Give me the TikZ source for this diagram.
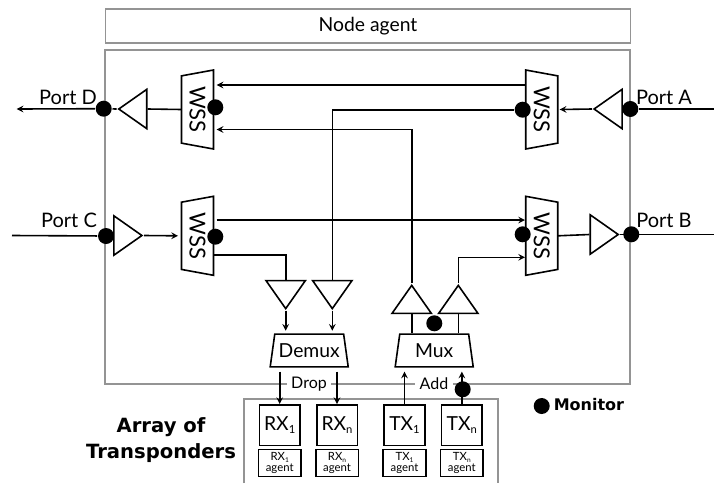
\documentclass[tikz,border=0pt]{standalone}
\usepackage{fontspec}
\setmainfont{Lato}
\newfontfamily\heavyfont{DejaVu Sans}[BoldFont={DejaVu Sans Bold}]
\usetikzlibrary{positioning, arrows, shapes.geometric}
\newcommand{\subidx}[1]{\raisebox{-.35ex}{\scalebox{.58}{#1}}}

\begin{document}
\begin{tikzpicture}[x=.75pt,y=-.75pt,>=stealth,node distance=20pt,on grid,line width=1.2pt]
\tikzstyle{panel}=[draw=black!42,line width=1.3pt]
\tikzstyle{wss}=[trapezium,draw,rotate=-90,trapezium left angle=70,trapezium right angle=70,trapezium stretches body=true,minimum width=59.25pt,minimum height=24pt,inner sep=0pt,font=\fontsize{16.5}{16.5}\selectfont]
\tikzstyle{wssflip}=[wss,shape border rotate=180]
\tikzstyle{amp}=[isosceles triangle,draw,isosceles triangle stretches=true,minimum width=29.5pt,minimum height=21pt,inner sep=0pt,anchor=apex]
\tikzstyle{mux}=[trapezium,draw,trapezium left angle=72,trapezium right angle=72,trapezium stretches body=true,minimum width=58.5pt,minimum height=24.5pt,inner sep=0pt,font=\fontsize{14.5}{15}\selectfont]
\tikzstyle{mon}=[circle,fill,minimum size=12pt,inner sep=0pt]
\tikzstyle{trx}=[rectangle,draw,minimum size=30.5pt,inner sep=0pt,font=\fontsize{14.5}{15}\selectfont]
\tikzstyle{agent}=[rectangle,draw,minimum width=32pt,minimum height=20.5pt,inner sep=0pt,align=center,font=\fontsize{8.5}{8.7}\selectfont]
\tikzstyle{lbl}=[inner sep=0pt,font=\fontsize{15}{15}\selectfont]
\tikzstyle{gap}=[fill=white,inner sep=3.5pt,font=\fontsize{12}{12}\selectfont]
\useasboundingbox (0,0) rectangle (714,483);

  %--- frames ---
  \node[panel,rectangle,minimum width=393.8pt,minimum height=26pt,inner sep=0pt,font=\fontsize{14.5}{15}\selectfont] (agentbar) at (368,26) {Node agent};
  \node[panel,rectangle,minimum width=393.8pt,minimum height=250.5pt] (frame) at (367.5,217) {};
  \draw[panel] (244,483) |- (498,399) -- (498,483);

  %--- wss ---
  \node[wssflip] (wssD) at (197.5,109.5) {WSS};
  \node[wss] (wssA) at (541.7,109.5) {WSS};
  \node[wssflip] (wssC) at (197.5,235.8) {WSS};
  \node[wss] (wssB) at (541.7,235.8) {WSS};

  %--- amplifiers ---
  \node[amp,rotate=180] (ampD) at (116.7,109) {};
  \node[amp,rotate=180] (ampA) at (592,109) {};
  \node[amp] (ampC) at (144,235.5) {};
  \node[amp] (ampB) at (620.3,234.5) {};
  \node[amp,rotate=-90] (ampDl) at (285.7,310.7) {};
  \node[amp,rotate=-90] (ampDr) at (332.3,310.7) {};
  \node[amp,rotate=90] (ampMl) at (411.7,283.3) {};
  \node[amp,rotate=90] (ampMr) at (458.3,283.3) {};

  %--- mux ---
  \node[mux] (demux) at (309.2,350.5) {Demux};
  \node[mux] (mux) at (434.2,350.5) {Mux};

  %--- transponders ---
  \node[trx] (rx1) at (279.7,425.2) {RX\subidx{1}};
  \node[trx] (rxn) [right=43pt of rx1] {RX\subidx{n}};
  \node[trx] (tx1) [right=93.6pt of rx1] {TX\subidx{1}};
  \node[trx] (txn) [right=43pt of tx1] {TX\subidx{n}};
  \node[agent] (rx1a) [below=28.35pt of rx1] {RX\subidx{1}\\agent};
  \node[agent] (rxna) [below=28.35pt of rxn] {RX\subidx{n}\\agent};
  \node[agent] (tx1a) [below=28.35pt of tx1] {TX\subidx{1}\\agent};
  \node[agent] (txna) [below=28.35pt of txn] {TX\subidx{n}\\agent};

  %--- labels ---
  \node[lbl] (portD) at (68,97) {Port D};
  \node[lbl] (portC) at (69,220) {Port C};
  \node[lbl] (portA) at (664,97) {Port A};
  \node[lbl] (portB) at (664,220.5) {Port B};
  \node[gap] (drop) at (309,384) {Drop};
  \node[gap] (add) at (434,384) {Add};
  \node[align=center,inner sep=0pt,font=\heavyfont\bfseries\fontsize{14.7}{19.5}\selectfont] (array) at (161,440) {Array of\\Transponders};
  \node[inner sep=0pt,anchor=west,font=\heavyfont\bfseries\fontsize{12}{12}\selectfont] (montext) at (553,405) {Monitor};

  %--- monitors ---
  \node[mon] (monD) at (103.7,108.7) {};
  \node[mon] (monC) at (106,236) {};
  \node[mon] (monA) at (630.3,109) {};
  \node[mon] (monB) at (631.3,234.3) {};
  \node[mon] (monWD) at (215.3,107.3) {};
  \node[mon] (monWC) at (215.3,236.7) {};
  \node[mon] (monWA) at (522.7,109.7) {};
  \node[mon] (monWB) at (522.7,234.3) {};
  \node[mon] (monMux) at (434.3,323.3) {};
  \node[mon] (monAdd) at (462.7,389.3) {};
  \node[mon] (monKey) at (541.7,406) {};

  %--- free ends ---
  \coordinate (endD) at (16.7,109);
  \coordinate (endC) at (12,235.5);
  \coordinate (endA) at (714,109);
  \coordinate (endB) at (714,234.5);

  %--- connectors ---
  \path[->]
    (monD) edge (endD);
  \draw (monD) -- (ampD.apex);
  \draw (ampD.lower side) -- ([xshift=-11.85pt]wssD.center);
  \draw (endC) -- (monC);
  \draw[->] (ampC.apex) -- ([xshift=-14.6pt]wssC.center);
  \draw (endA) -- (monA);
  \draw[->] (ampA.apex) -- ([xshift=13.5pt]wssA.center);
  \draw ([xshift=12.2pt]wssB.center) -- (ampB.lower side);
  \draw (ampB.apex) -- (endB);

  \draw[->] ([shift={(-16.7,-24.5)}]wssA.center) -- ([shift={(19.2,-24.5)}]wssD.center);
  \draw[->] ([shift={(19.2,-15.8)}]wssC.center) -- ([shift={(-16.7,-15.8)}]wssB.center);
  \draw[->] (ampMl.apex) |- ([shift={(19.2,20)}]wssD.center);
  \draw[->] (ampMr.apex) |- ([shift={(-16.7,21.5)}]wssB.center);
  \draw (monWA) -| (ampDr.lower side);
  \draw ([shift={(16.5,19.2)}]wssC.center) -| (ampDl.lower side);

  \draw[->,shorten >=2pt] (ampDl.apex) -- (ampDl.apex |- demux.north);
  \draw[->,shorten >=2pt] (ampDr.apex) -- (ampDr.apex |- demux.north);
  \draw (ampMl.lower side) -- (ampMl.lower side |- mux.north);
  \draw (ampMr.lower side) -- (ampMr.lower side |- mux.north);

  \draw[->,shorten <=3pt] (rx1.north |- demux.south) -- (rx1.north);
  \draw[->,shorten <=3pt] (rxn.north |- demux.south) -- (rxn.north);
  \draw[->,shorten >=3pt] (tx1.north) -- (tx1.north |- mux.south);
  \draw[->,shorten >=3pt] (txn.north) -- (txn.north |- mux.south);
\end{tikzpicture}
\end{document}
